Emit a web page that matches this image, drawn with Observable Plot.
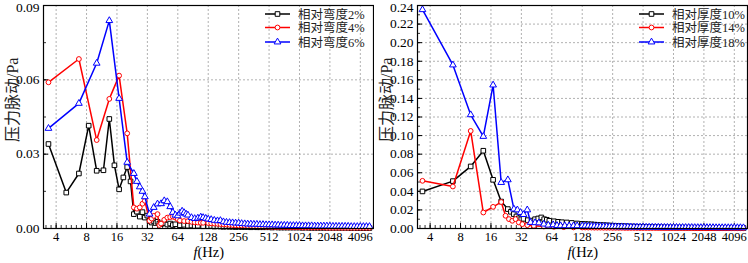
<!DOCTYPE html>
<html><head><meta charset="utf-8">
<script src="https://cdn.jsdelivr.net/npm/d3@7"></script>
<script src="https://cdn.jsdelivr.net/npm/@observablehq/plot@0.6"></script>
<style>
body{margin:0;background:#fff;}
#wrap{display:flex;width:748px;height:263px;overflow:hidden;}
</style></head><body><div id="wrap"></div>
<script>
// ---------- tick labels ----------
const xTickLabels = [4, 8, 16, 32, 64, 128, 256, 512, 1024, 2048, 4096];
const yTicksLeft = [0, 0.03, 0.06, 0.09];
const yTicksRight = [0, 0.02, 0.04, 0.06, 0.08, 0.10, 0.12, 0.14, 0.16, 0.18, 0.20, 0.22, 0.24];

// ---------- shared high-frequency tail frequencies (Hz) ----------
const tailF = [128,137,147,158,169,181,194,208,223,239,
  256,274,294,315,338,362,388,416,446,478,
  512,549,588,630,676,724,776,832,891,955,
  1024,1097,1176,1261,1351,1448,1552,1663,1783,1911,
  2048,2195,2353,2521,2702,2896,3104,3327,3566,3822,
  4096,4390,4705,5043];

// ---------- left panel: 相对弯度 ----------
const leftLabels = ["相对弯度2%", "相对弯度4%", "相对弯度6%"];
const camber2F = [3.36,5.04,6.72,8.4,10.08,11.76,13.44,15.1,16.8,18.5,
  20.2,21.8,23.5,25.2,26.9,28.6,30.2,31.9,33.6,35.3,
  37,38.6,40.3,42,43.7,47,50.4,53.8,57.1,60.5,
  67.2,73.9,80.6,87.4,94,101,114];
const camber2V = [.0341,.0145,.0222,.0415,.0233,.0235,.0442,.0255,.0158,.0206,
  .0248,.0190,.0058,.0068,.0048,.0066,.0044,.0052,.0030,.0024,
  .0030,.0022,.0027,.0020,.0018,.0022,.0016,.0020,.0014,.0017,
  .0013,.0015,.0011,.0012,.0010,.0011,.0009];
const camber2Tail = [.0009,.0010,.0008,.0009,.0008,.0007,.0008,.0007,.0007,.0006,
  .0007,.0006,.0006,.0006,.0005,.0006,.0005,.0005,.0005,.0005,
  .0005,.0004,.0005,.0004,.0004,.0004,.0004,.0004,.0004,.0004,
  .0004,.0003,.0004,.0003,.0003,.0003,.0003,.0003,.0003,.0003,
  .0003,.0003,.0003,.0003,.0003,.0003,.0003,.0002,.0003,.0002,
  .0002,.0002,.0002,.0002];

const camber4F = [3.36,6.72,10.08,13.44,16.8,20.2,23.5,25.2,26.9,28.6,
  30.2,33.6,35.3,37,40.3,42,43.7,47,50.4,53.8,
  57.1,60.5,63.8,67.2,73.9,80.6,87.4,94,101,108,
  114];
const camber4V = [.0590,.0684,.0357,.0523,.0617,.0384,.0085,.0080,.0085,.0100,
  .0112,.0031,.0040,.0051,.0058,.0014,.0020,.0035,.0044,.0046,
  .0048,.0044,.0038,.0032,.0030,.0030,.0027,.0025,.0024,.0023,
  .0023];
const camber4Tail = [.0022,.0021,.0020,.0019,.0018,.0017,.0016,.0015,.0014,.0013,
  .0012,.0012,.0011,.0010,.0010,.0009,.0009,.0008,.0008,.0007,
  .0007,.0007,.0006,.0006,.0006,.0006,.0005,.0005,.0005,.0005,
  .0005,.0004,.0004,.0004,.0004,.0004,.0004,.0004,.0004,.0003,
  .0003,.0003,.0003,.0003,.0003,.0003,.0003,.0003,.0003,.0003,
  .0003,.0003,.0003,.0003];

const camber6F = [3.36,6.72,10.08,13.44,16.8,20.2,23.5,25.2,26.9,28.6,
  30.2,33.6,37,40.3,43.7,47,50.4,53.8,57.1,60.5,
  63.8,67.2,70.6,73.9,77.3,80.6,87.4,94,101,108,
  114,121];
const camber6V = [.0404,.0505,.0667,.0839,.0525,.0267,.0222,.0190,.0168,.0150,
  .0128,.0058,.0085,.0099,.0100,.0112,.0108,.0088,.0065,.0054,
  .0051,.0062,.0070,.0064,.0058,.0054,.0044,.0040,.0042,.0046,
  .0044,.0041];
const camber6Tail = [.0038,.0036,.0033,.0031,.0032,.0027,.0025,.0024,.0023,.0022,
  .0022,.0020,.0019,.0018,.0018,.0017,.0017,.0016,.0016,.0015,
  .0015,.0015,.0014,.0014,.0013,.0013,.0013,.0012,.0012,.0012,
  .0012,.0011,.0011,.0011,.0011,.0010,.0010,.0010,.0010,.0010,
  .0010,.0009,.0009,.0009,.0009,.0009,.0009,.0008,.0008,.0008,
  .0008,.0008,.0008,.0008];

// ---------- right panel: 相对厚度 ----------
const rightLabels = ["相对厚度10%", "相对厚度14%", "相对厚度18%"];
const thick10F = [3.36,6.72,10.08,13.44,16.8,20.2,23.5,25.2,26.9,28.6,
  30.2,31.9,33.6,37,40.3,43.7,47,50.4,53.8,57.1,
  60.5,67.2,73.9,80.6,90,101,114];
const thick10V = [.0399,.0510,.0668,.0837,.0524,.0290,.0209,.0180,.0155,.0130,
  .0110,.0100,.0104,.0090,.0085,.0100,.0108,.0119,.0100,.0094,
  .0083,.0078,.0072,.0068,.0065,.0060,.0054];
const thick10Tail = [.0050,.0048,.0046,.0045,.0042,.0040,.0038,.0036,.0034,.0032,
  .0030,.0028,.0027,.0025,.0024,.0022,.0021,.0020,.0019,.0018,
  .0017,.0016,.0015,.0015,.0014,.0013,.0013,.0012,.0012,.0011,
  .0011,.0010,.0010,.0010,.0009,.0009,.0009,.0008,.0008,.0008,
  .0008,.0007,.0007,.0007,.0007,.0007,.0006,.0006,.0006,.0006,
  .0006,.0006,.0005,.0005];

const thick14F = [3.36,6.72,10.08,13.44,16.8,20.2,22.3,24.1,26,28,
  30.2,32.7,36.6,42.5,53.4,67.2,84,105];
const thick14V = [.0513,.0452,.1050,.0172,.0233,.0285,.0137,.0101,.0083,.0101,
  .0065,.0047,.0036,.0029,.0022,.0018,.0015,.0012];
const thick14Tail = [.0011,.0011,.0010,.0010,.0009,.0009,.0009,.0008,.0008,.0008,
  .0007,.0007,.0007,.0007,.0006,.0006,.0006,.0006,.0006,.0005,
  .0005,.0005,.0005,.0005,.0005,.0005,.0004,.0004,.0004,.0004,
  .0004,.0004,.0004,.0004,.0004,.0004,.0004,.0003,.0003,.0003,
  .0003,.0003,.0003,.0003,.0003,.0003,.0003,.0003,.0003,.0003,
  .0003,.0003,.0003,.0003];

const thick18F = [3.36,6.72,10.08,13.44,16.8,20.2,23.5,27,29.2,31.4,
  33.6,36.6,39.5,43.7,47.7,53.4,59,66,72,78.2,
  86,95,105,114];
const thick18V = [.2355,.1760,.1224,.0991,.1544,.0495,.0524,.0209,.0200,.0172,
  .0150,.0200,.0065,.0062,.0060,.0047,.0036,.0040,.0032,.0029,
  .0030,.0028,.0029,.0029];
const thick18Tail = [.0028,.0027,.0026,.0025,.0024,.0023,.0022,.0022,.0021,.0020,
  .0020,.0019,.0018,.0018,.0017,.0017,.0016,.0016,.0015,.0015,
  .0015,.0014,.0014,.0014,.0013,.0013,.0013,.0012,.0012,.0012,
  .0012,.0012,.0011,.0011,.0011,.0011,.0011,.0010,.0010,.0010,
  .0010,.0010,.0010,.0010,.0009,.0009,.0009,.0009,.0009,.0009,
  .0009,.0009,.0009,.0008];

// ---------- style ----------
const colors = ["#000000", "#ff0000", "#0000ff"];
const symbols = ["square", "circle", "triangle"];
const symR = [2.6, 2.4, 2.5];
const d3symbols = [d3.symbolSquare, d3.symbolCircle, d3.symbolTriangle];
const serif = "'Liberation Serif','Times New Roman','Noto Sans CJK SC',serif";

function rows(fArr, vArr, tailV) {
  return fArr.map((f, i) => ({f, v: vArr[i]}))
    .concat(tailF.map((f, i) => ({f, v: tailV[i]})));
}

const W = 374, H = 263, mL = 43, mR = 1, mT = 5, mB = 35;
const innerW = W - mL - mR, innerH = H - mT - mB;

function panel(seriesList, labels, yTicks, yMax, yMinorStep) {
  const xMinor = d3.range(Math.ceil(Math.log2(3.0) * 6), Math.floor(Math.log2(5530) * 6) + 1)
    .map(k => Math.pow(2, k / 6));
  const yMinor = d3.range(0, Math.round(yMax / yMinorStep) + 1).map(k => k * yMinorStep);
  const marks = [
    Plot.gridX(xTickLabels, {stroke: "#a8a8a8", strokeOpacity: 1, strokeDasharray: "2,2", strokeWidth: 0.9}),
    Plot.gridY(yTicks.slice(1, -1), {stroke: "#a8a8a8", strokeOpacity: 1, strokeDasharray: "2,2", strokeWidth: 0.9}),
    Plot.ruleX(xMinor, {x: d => d, insetTop: innerH - 3, stroke: "black", strokeWidth: 0.8}),
    Plot.ruleX(xTickLabels, {x: d => d, insetTop: innerH - 5, stroke: "black", strokeWidth: 1}),
    Plot.ruleY(yMinor, {y: d => d, insetRight: innerW - 3, stroke: "black", strokeWidth: 0.8}),
    Plot.ruleY(yTicks, {y: d => d, insetRight: innerW - 5, stroke: "black", strokeWidth: 1}),
    Plot.axisX(xTickLabels, {tickSize: 0, tickPadding: 4, fontSize: 12.5, label: null,
      tickFormat: d => String(d), fontFamily: serif}),
    Plot.axisY(yTicks.slice(0, -1), {tickSize: 0, tickPadding: 4, fontSize: 13.5, label: null,
      tickFormat: d => d.toFixed(2), fontFamily: serif}),
    Plot.axisY([yMax], {tickSize: 0, tickPadding: 4, fontSize: 13.5, label: null, dy: 2,
      tickFormat: d => d.toFixed(2), fontFamily: serif}),
  ];
  seriesList.forEach((data, i) => {
    marks.push(Plot.line(data, {x: "f", y: "v", stroke: colors[i], strokeWidth: 1.5}));
    marks.push(Plot.dot(data, {x: "f", y: "v", symbol: symbols[i], r: symR[i],
      stroke: colors[i], fill: "white", strokeWidth: 1}));
  });
  marks.push(Plot.frame({stroke: "black", strokeWidth: 1.2}));
  marks.push(Plot.text(["压力脉动/Pa"], {frameAnchor: "left", dx: -31, dy: 25, rotate: -90,
    fontSize: 16, fontFamily: serif, fill: "#222"}));
  marks.push(Plot.text(["f"], {frameAnchor: "bottom", dy: 28, dx: -11, textAnchor: "end",
    fontStyle: "italic", fontSize: 14.5, fontFamily: serif}));
  marks.push(Plot.text(["(Hz)"], {frameAnchor: "bottom", dy: 28, dx: -11, textAnchor: "start",
    fontSize: 14.5, fontFamily: serif}));

  const svg = Plot.plot({
    width: W, height: H,
    marginLeft: mL, marginRight: mR, marginTop: mT, marginBottom: mB,
    x: {type: "log", base: 2, domain: [3.0, 5530], label: null},
    y: {domain: [0, yMax], label: null},
    style: {fontFamily: serif, color: "black", background: "white", display: "block"},
    marks
  });

  // legend
  const g = d3.select(svg).append("g").attr("text-anchor", "start");
  const legendY = [14, 27.5, 42];
  labels.forEach((lab, i) => {
    const y = legendY[i];
    g.append("line").attr("x1", 265).attr("x2", 290).attr("y1", y).attr("y2", y)
      .attr("stroke", colors[i]).attr("stroke-width", 1.5);
    const r = symR[i];
    g.append("path").attr("d", d3.symbol(d3symbols[i], Math.PI * r * r)())
      .attr("transform", `translate(277.5,${y})`).attr("fill", "white")
      .attr("stroke", colors[i]).attr("stroke-width", 1);
    g.append("text").attr("x", 298).attr("y", y).attr("dy", "0.36em").attr("text-anchor", "start")
      .attr("font-size", 12.5).attr("font-family", serif).attr("fill", "#222").text(lab);
  });
  return svg;
}

const wrap = document.getElementById("wrap");
wrap.appendChild(panel(
  [rows(camber2F, camber2V, camber2Tail), rows(camber4F, camber4V, camber4Tail), rows(camber6F, camber6V, camber6Tail)],
  leftLabels, yTicksLeft, 0.09, 0.015));
wrap.appendChild(panel(
  [rows(thick10F, thick10V, thick10Tail), rows(thick14F, thick14V, thick14Tail), rows(thick18F, thick18V, thick18Tail)],
  rightLabels, yTicksRight, 0.24, 0.01));
</script>
</body></html>
